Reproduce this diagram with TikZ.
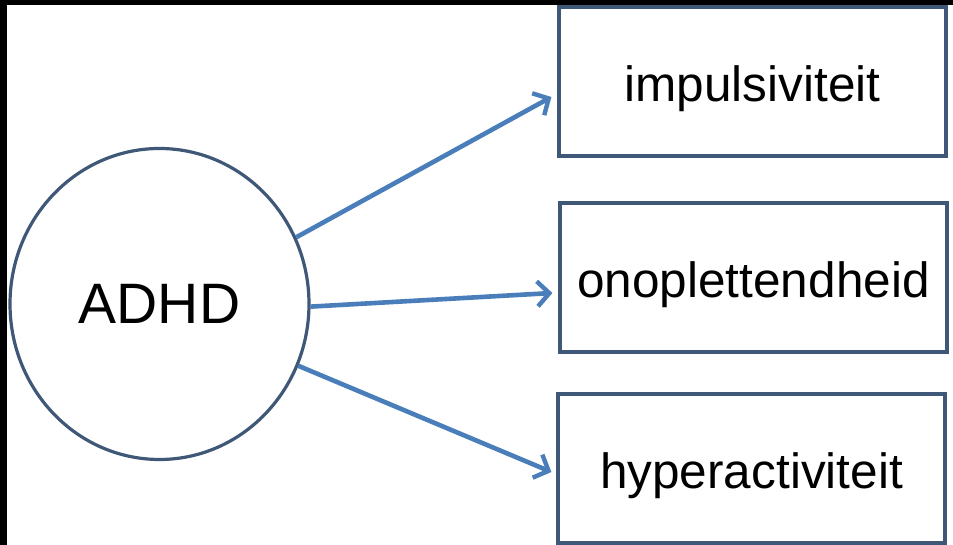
\documentclass[tikz,border=0pt]{standalone}
\usepackage{fontspec}
\setmainfont{Liberation Sans}
\usetikzlibrary{shapes.geometric,arrows.meta}
\definecolor{outline}{HTML}{3F5878}
\definecolor{arrowblue}{HTML}{4A7EBB}
\tikzset{
  hub/.style={draw=outline, line width=3.2pt, ellipse, inner sep=0pt,
    minimum width=299pt, minimum height=311pt, font=\fontsize{57}{60}\selectfont},
  trait/.style={draw=outline, line width=3.2pt, fill=white, rectangle, inner sep=0pt,
    minimum width=387pt, minimum height=149pt, text height=50pt, text depth=10pt,
    font=\fontsize{49.5}{52}\selectfont},
  link/.style={draw=arrowblue, line width=4.6pt,
    -{Straight Barb[length=12pt,width=25pt,line width=4.4pt]}},
}
\begin{document}
\begin{tikzpicture}[x=1pt,y=1pt]
  % page and the dark bands along the top and left edges
  \fill[white] (0,0) rectangle (953,545);
  \fill[black] (0,540) rectangle (953,545);
  \fill[black] (0,0) rectangle (7,545);
  \useasboundingbox (0,0) rectangle (953,545);

  \node[hub] (adhd) at (159.5,241) {ADHD};
  \node[trait] (imp) at (752.5,463.5) {impulsiviteit};
  \node[trait] (ono) at (753.5,267.5) {onoplettendheid};
  \node[trait] (hyp) at (751.5,76.5) {hyperactiviteit};

  \draw[link] (adhd.26) -- ([xshift=-6pt,yshift=-15.5pt]imp.west);
  \draw[link] (adhd.-1) -- ([xshift=-6pt,yshift=-15.5pt]ono.west);
  \draw[link] (adhd.-24.5) -- ([xshift=-5pt,yshift=-3.5pt]hyp.west);
\end{tikzpicture}
\end{document}
